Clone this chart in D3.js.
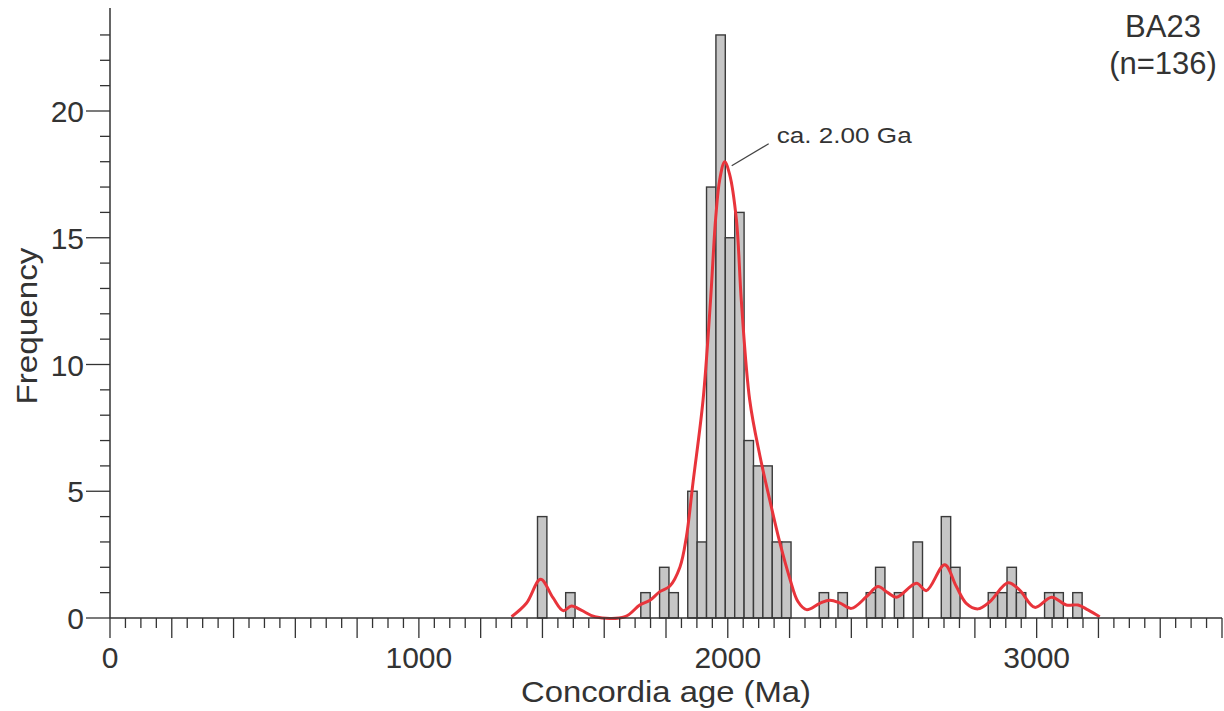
<!DOCTYPE html>
<html>
<head>
<meta charset="utf-8">
<script src="https://cdn.jsdelivr.net/npm/d3@7"></script>
<style>
  html, body { margin: 0; padding: 0; background: #fff; }
  svg { display: block; font-family: "Liberation Sans", Arial, sans-serif; }
</style>
</head>
<body>
<svg id="chart" width="1224" height="711"></svg>
<script>
// ---------- data ----------
const sampleName = "BA23";
const sampleCount = "(n=136)";
const binWidth = 30.4; // Ma
const binStart = [1384, 1475.2, 1718.4, 1779.2, 1809.6, 1870.4, 1900.8, 1931.2, 1961.6, 1992.0,
                  2022.4, 2052.8, 2083.2, 2113.6, 2144.0, 2174.4, 2296.0, 2356.8, 2448.0, 2478.4,
                  2539.2, 2600.0, 2691.2, 2721.6, 2843.2, 2873.6, 2904.0, 2934.4, 3025.6, 3056.0, 3116.8];
const binCount = [4, 1, 1, 2, 1, 5, 3, 17, 23, 15,
                  16, 7, 6, 6, 3, 3, 1, 1, 1, 2,
                  1, 3, 4, 2, 1, 1, 2, 1, 1, 1, 1];
// Kernel density curve (scaled to frequency)
const kdeAge = [1300, 1348, 1394, 1434, 1467, 1494, 1527, 1570, 1667, 1715, 1748, 1780, 1812, 1845, 1866, 1888,
                1920, 1944, 1961, 1974, 1990, 2006, 2028, 2044, 2071, 2104, 2136, 2168, 2201, 2227, 2255,
                2298, 2330, 2362, 2400, 2449, 2486, 2518, 2546, 2611, 2643, 2702, 2740, 2772, 2810, 2848,
                2907, 2945, 2994, 3048, 3096, 3134, 3166, 3204];
const kdeValue = [0.05, 0.58, 1.53, 0.8, 0.29, 0.47, 0.3, 0.05, 0.05, 0.51, 0.7, 1.04, 1.25, 2.0, 3.2, 5.4,
                  8.6, 12.5, 15.8, 17.3, 18.0, 17.5, 15.7, 12.5, 8.6, 6.4, 4.65, 3.0, 1.55, 0.65, 0.33,
                  0.58, 0.7, 0.6, 0.38, 0.84, 1.24, 1.0, 0.82, 1.37, 1.08, 2.1, 1.24, 0.58, 0.36, 0.64,
                  1.39, 1.1, 0.42, 0.82, 0.51, 0.51, 0.32, 0.05];
const peakLabel = "ca. 2.00 Ga";
const peakAge = 1990, peakValue = 18.0;
const xTickLabels = [0, 1000, 2000, 3000];
const yTickLabels = [0, 5, 10, 15, 20];
const xTitle = "Concordia age (Ma)";
const yTitle = "Frequency";

// ---------- layout ----------
const svg = d3.select("#chart");
const x = d3.scaleLinear().domain([0, 3600]).range([110, 1222]);
const y = d3.scaleLinear().domain([0, 24]).range([618, 9.6]);
const ink = "#333333";

// bars
svg.append("g").selectAll("rect")
  .data(binStart.map((s, i) => ({ s, c: binCount[i] })))
  .join("rect")
  .attr("x", d => x(d.s))
  .attr("width", d => x(d.s + binWidth) - x(d.s))
  .attr("y", d => y(d.c))
  .attr("height", d => y(0) - y(d.c))
  .attr("fill", "#c6c6c6")
  .attr("stroke", "#3a3a3a")
  .attr("stroke-width", 1.4);

// KDE curve
const line = d3.line()
  .x(d => x(d[0])).y(d => y(d[1]))
  .curve(d3.curveCatmullRom.alpha(0.5));
svg.append("path")
  .datum(kdeAge.map((a, i) => [a, kdeValue[i]]))
  .attr("d", line)
  .attr("fill", "none")
  .attr("stroke", "#e8343b")
  .attr("stroke-width", 3)
  .attr("stroke-linejoin", "round");

// X axis
const xMinor = d3.range(0, 3601, 50);
const gx = svg.append("g");
gx.append("line").attr("x1", x(0)).attr("x2", x(3600)).attr("y1", y(0)).attr("y2", y(0))
  .attr("stroke", ink).attr("stroke-width", 1.5);
gx.selectAll("line.t").data(xMinor).join("line").attr("class", "t")
  .attr("x1", d => x(d)).attr("x2", d => x(d))
  .attr("y1", y(0)).attr("y2", d => y(0) + (d % 200 === 0 ? 20 : 10))
  .attr("stroke", ink).attr("stroke-width", 1.3);
gx.selectAll("text").data(xTickLabels).join("text")
  .attr("x", d => x(d)).attr("y", 668)
  .attr("text-anchor", "middle")
  .attr("font-size", 30).attr("fill", ink)
  .text(d => d);

// Y axis
const gy = svg.append("g");
gy.append("line").attr("x1", x(0)).attr("x2", x(0)).attr("y1", y(0)).attr("y2", 8)
  .attr("stroke", ink).attr("stroke-width", 1.5);
gy.selectAll("line.t").data(d3.range(0, 24)).join("line").attr("class", "t")
  .attr("x1", x(0)).attr("x2", d => x(0) - (d % 5 === 0 ? 24 : 10))
  .attr("y1", d => y(d)).attr("y2", d => y(d))
  .attr("stroke", ink).attr("stroke-width", 1.3);
gy.selectAll("text").data(yTickLabels).join("text")
  .attr("x", 84).attr("y", d => y(d) + 11)
  .attr("text-anchor", "end")
  .attr("font-size", 30).attr("fill", ink)
  .text(d => d);

// axis titles
svg.append("text").attr("x", 666).attr("y", 702)
  .attr("text-anchor", "middle").attr("font-size", 30).attr("fill", ink)
  .attr("textLength", 290).attr("lengthAdjust", "spacingAndGlyphs")
  .text(xTitle);
svg.append("text")
  .attr("transform", "translate(37,326) rotate(-90)")
  .attr("text-anchor", "middle").attr("font-size", 30).attr("fill", ink)
  .attr("textLength", 157).attr("lengthAdjust", "spacingAndGlyphs")
  .text(yTitle);

// sample label
svg.append("text").attr("x", 1163).attr("y", 37)
  .attr("text-anchor", "middle").attr("font-size", 31).attr("fill", ink).text(sampleName);
svg.append("text").attr("x", 1163).attr("y", 74)
  .attr("text-anchor", "middle").attr("font-size", 31).attr("fill", ink).text(sampleCount);

// peak annotation
svg.append("line")
  .attr("x1", x(peakAge) + 7).attr("y1", y(peakValue) + 4)
  .attr("x2", x(peakAge) + 44).attr("y2", y(peakValue) - 18)
  .attr("stroke", "#444").attr("stroke-width", 1.3);
svg.append("text").attr("x", x(peakAge) + 52).attr("y", 143)
  .attr("font-size", 22).attr("fill", ink)
  .attr("textLength", 135).attr("lengthAdjust", "spacingAndGlyphs")
  .text(peakLabel);
</script>
</body>
</html>
